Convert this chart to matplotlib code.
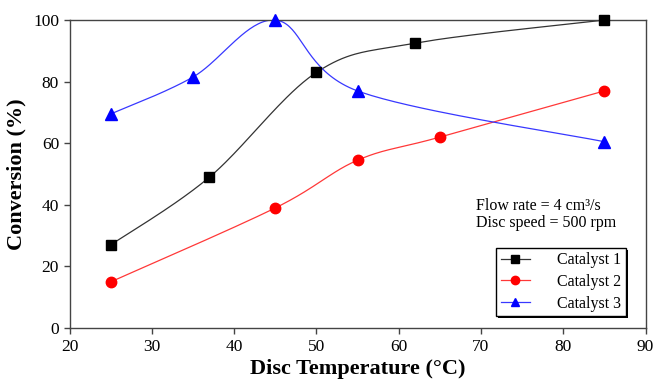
import numpy as np
import matplotlib
matplotlib.use("Agg")
import matplotlib.pyplot as plt
from matplotlib.patches import Rectangle

# Data
temp1 = [25, 37, 50, 62, 85]
conv1 = [27, 49, 83, 92.5, 100]
temp2 = [25, 45, 55, 65, 85]
conv2 = [15, 39, 54.5, 62, 77]
temp3 = [25, 35, 45, 55, 85]
conv3 = [69.5, 81.5, 100, 77, 60.5]
labels = ["Catalyst 1", "Catalyst 2", "Catalyst 3"]
xticks = [20, 30, 40, 50, 60, 70, 80, 90]
yticks = [0, 20, 40, 60, 80, 100]


def smooth(x, y, n=40, t=1/6):
    """Excel-like smoothed line via cubic Bezier (Catmull-Rom control points)."""
    x = np.asarray(x, float); y = np.asarray(y, float)
    xs, ys = [], []
    m = len(x)
    for i in range(m - 1):
        p0 = np.array([x[i-1], y[i-1]]) if i > 0 else np.array([x[i], y[i]])
        p1 = np.array([x[i], y[i]])
        p2 = np.array([x[i+1], y[i+1]])
        p3 = np.array([x[i+2], y[i+2]]) if i + 2 < m else p2
        c1 = p1 + (p2 - p0) * t
        c2 = p2 - (p3 - p1) * t
        s = np.linspace(0, 1, n)[:, None]
        pts = (1-s)**3*p1 + 3*(1-s)**2*s*c1 + 3*(1-s)*s**2*c2 + s**3*p2
        xs.extend(pts[:, 0]); ys.extend(pts[:, 1])
    return np.array(xs), np.array(ys)


SERIF = "Liberation Serif"
fig = plt.figure(figsize=(6.56, 3.86), dpi=100)
ax = fig.add_axes([0.106, 0.150, 0.878, 0.798])

series = [
    (temp1, conv1, "black", "s", labels[0], "#333333", 7),
    (temp2, conv2, "red", "o", labels[1], "#ff3838", 7.5),
    (temp3, conv3, "blue", "^", labels[2], "#3838ff", 8),
]
for x, y, c, mk, lab, lc, ms in series:
    sx, sy = smooth(x, y)
    ax.plot(sx, sy, color=lc, lw=0.9, zorder=2)
    ax.plot(x, y, linestyle="none", marker=mk, color=c, ms=ms, zorder=3,
            clip_on=False)
    ax.plot([], [], color=lc, lw=0.9, marker=mk, mfc=c, mec=c, ms=6, label=lab)

ax.set_xlim(20, 90)
ax.set_ylim(0, 100)
ax.set_xticks(xticks)
ax.set_yticks(yticks)
for sp in ax.spines.values():
    sp.set_color("#444444")
    sp.set_linewidth(1.0)
ax.tick_params(direction="out", length=4.5, width=1, color="#444444",
               labelsize=12.5, pad=3)
for lbl in ax.get_xticklabels() + ax.get_yticklabels():
    lbl.set_fontfamily(SERIF)

ax.set_xlabel("Disc Temperature (°C)", fontfamily=SERIF,
              fontweight="bold", fontsize=16, labelpad=3)
ax.set_ylabel("Conversion (%)", fontfamily=SERIF,
              fontweight="bold", fontsize=16, labelpad=5)

ax.text(0.706, 0.383, "Flow rate = 4 cm\u00b3/s", transform=ax.transAxes,
        fontfamily=SERIF, fontsize=11.5, ha="left", va="baseline")
ax.text(0.706, 0.328, "Disc speed = 500 rpm", transform=ax.transAxes,
        fontfamily=SERIF, fontsize=11.5, ha="left", va="baseline")

leg = ax.legend(loc="lower right", bbox_to_anchor=(0.966, 0.038),
                prop={"family": SERIF, "size": 11.5},
                frameon=True, fancybox=False, shadow=False,
                edgecolor="black", framealpha=1,
                borderpad=0.3, labelspacing=0.35, handlelength=1.8,
                handletextpad=1.7, borderaxespad=0)
leg.get_frame().set_linewidth(1.0)
leg.set_zorder(6)

# thin drop shadow like the reference
fig.canvas.draw()
bb = leg.get_frame().get_window_extent()
ax.add_artist(Rectangle((bb.x0 + 2, bb.y0 - 2), bb.width, bb.height,
                        transform=None, facecolor="black", edgecolor="none",
                        zorder=5.5, clip_on=False))

fig.savefig("out.png", dpi=100)
